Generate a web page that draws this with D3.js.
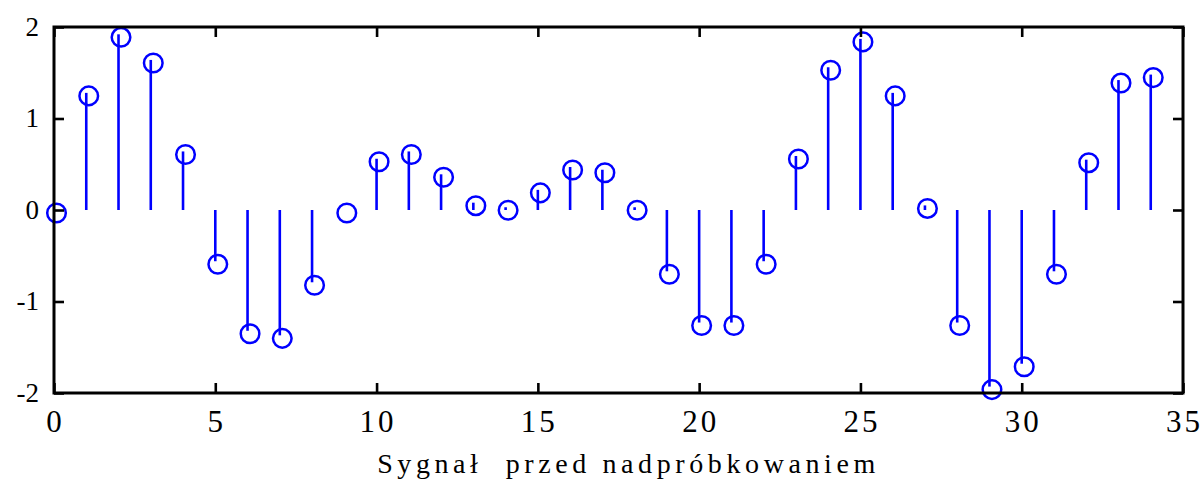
<!DOCTYPE html>
<html>
<head>
<meta charset="utf-8">
<script src="https://cdn.jsdelivr.net/npm/d3@7"></script>
<style>
  html, body { margin: 0; padding: 0; background: #fff; }
  svg { display: block; }
</style>
</head>
<body>
<svg id="chart" width="1202" height="480"></svg>
<script>
// ---- data ----
const sampleIndex = d3.range(0, 35);
const signalValues = [
  0.00, 1.28, 1.92, 1.64, 0.64, -0.56, -1.32, -1.37, -0.79, 0.00,
  0.56, 0.64, 0.39, 0.08, 0.03, 0.22, 0.47, 0.44, 0.03, -0.67,
  -1.23, -1.23, -0.56, 0.59, 1.56, 1.87, 1.28, 0.05, -1.23, -1.93,
  -1.68, -0.67, 0.55, 1.42, 1.48
];
const xTicks = [0, 5, 10, 15, 20, 25, 30, 35];
const yTicks = [-2, -1, 0, 1, 2];
const xLabel = "Sygnał  przed nadpróbkowaniem";

(function () {
  const svg = d3.select("#chart");
  const mL = 54, mR = 1183, mT = 27, mB = 393;
  const x = d3.scaleLinear().domain([0, 35]).range([mL, mR]);
  const y = d3.scaleLinear().domain([-2, 2]).range([mB, mT]);
  const blue = "#0000ff";
  const tickLen = 10;
  const serif = "'Liberation Serif', 'Times New Roman', serif";

  // stems
  svg.append("g").selectAll("line")
    .data(sampleIndex)
    .join("line")
    .attr("x1", i => x(i)).attr("x2", i => x(i))
    .attr("y1", y(0)).attr("y2", i => y(signalValues[i]))
    .attr("stroke", blue).attr("stroke-width", 2.6);

  // markers (slightly offset as in the reference rendering)
  svg.append("g").selectAll("circle")
    .data(sampleIndex)
    .join("circle")
    .attr("cx", i => x(i) + 2.5)
    .attr("cy", i => y(signalValues[i]) + 3)
    .attr("r", 9.3)
    .attr("fill", "none")
    .attr("stroke", blue).attr("stroke-width", 2.5);

  const fmt = d => String(d);
  const axisG = svg.append("g");

  const gB = axisG.append("g").attr("transform", `translate(0,${mB})`)
    .call(d3.axisBottom(x).tickValues(xTicks).tickSize(-tickLen).tickPadding(0).tickFormat(fmt));
  const gT = axisG.append("g").attr("transform", `translate(0,${mT})`)
    .call(d3.axisTop(x).tickValues(xTicks).tickSize(-tickLen).tickFormat(""));
  const gL = axisG.append("g").attr("transform", `translate(${mL},0)`)
    .call(d3.axisLeft(y).tickValues(yTicks).tickSize(-tickLen).tickPadding(0).tickFormat(fmt));
  const gR = axisG.append("g").attr("transform", `translate(${mR},0)`)
    .call(d3.axisRight(y).tickValues(yTicks).tickSize(-tickLen).tickFormat(""));

  [gB, gT, gL, gR].forEach(g => {
    g.select(".domain").remove();
    g.selectAll(".tick line").attr("stroke", "#000").attr("stroke-width", 2.6);
  });

  gB.selectAll(".tick text")
    .attr("y", 0).attr("dy", 0)
    .attr("transform", "translate(1,39)")
    .attr("font-family", serif)
    .attr("font-size", 31)
    .attr("letter-spacing", 3)
    .attr("fill", "#000");

  gL.selectAll(".tick text")
    .attr("x", -15).attr("dy", 0)
    .attr("transform", "translate(0,8)")
    .attr("font-family", serif)
    .attr("font-size", 27)
    .attr("fill", "#000");

  // frame
  svg.append("rect")
    .attr("x", mL).attr("y", mT)
    .attr("width", mR - mL).attr("height", mB - mT)
    .attr("fill", "none").attr("stroke", "#000").attr("stroke-width", 3);

  // x label
  svg.append("text")
    .attr("x", (mL + mR) / 2 + 10)
    .attr("y", 473)
    .attr("text-anchor", "middle")
    .attr("font-family", serif)
    .attr("font-size", 28)
    .attr("letter-spacing", 4.6)
    .style("white-space", "pre")
    .attr("fill", "#000")
    .text(xLabel);
})();
</script>
</body>
</html>
